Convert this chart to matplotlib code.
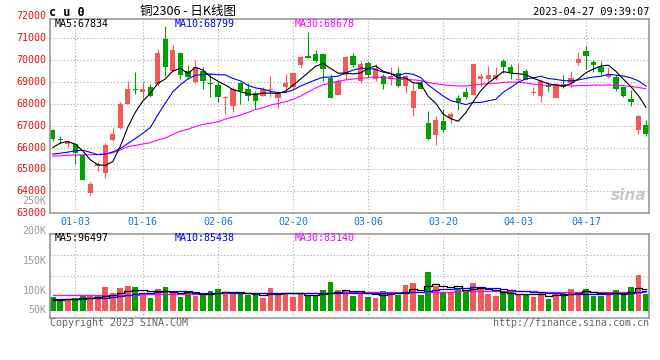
import numpy as np
import matplotlib
matplotlib.use("Agg")
import matplotlib.pyplot as plt

# daily candles, 2022-12-28 .. 2023-04-27 (80 trading days)
opens = [66810, 66410, 66160, 66160, 65640, 63920, 65180, 64840, 66350, 66870,
         68000, 68680, 68530, 68770, 68900, 70950, 69510, 70310, 69480, 68990,
         69510, 68960, 68870, 68280, 67910, 68930, 68650, 68500, 68370, 68620,
         68280, 68770, 68770, 69760, 70190, 70250, 70250, 69170, 68400, 69300,
         70160, 69020, 69850, 69110, 69260, 69110, 69390, 68830, 67790, 68990,
         67110, 66560, 67210, 67360, 68280, 68530, 68400, 69110, 69110, 69140,
         69940, 69690, 69080, 69510, 68470, 68370, 68830, 68250, 68900, 68930,
         69850, 70400, 69880, 69690, 69230, 69230, 68740, 68220, 66810, 67050]
closes = [66380, 66360, 66250, 65760, 64500, 64320, 65240, 66100, 66620, 68000,
          68680, 68630, 68650, 68370, 70310, 69660, 70430, 69300, 69200, 69690,
          69050, 68880, 68310, 68310, 68650, 68590, 68370, 68130, 68680, 68650,
          68500, 68930, 69420, 70120, 70090, 69970, 69570, 68280, 69050, 70120,
          69760, 69820, 69300, 69630, 68900, 69260, 68800, 69260, 68560, 68650,
          66380, 67240, 66810, 67510, 68070, 68310, 69790, 69260, 69330, 69300,
          69660, 69420, 69140, 69080, 68530, 69020, 68740, 68900, 68770, 69170,
          70060, 70160, 69760, 69450, 69360, 68650, 68340, 68070, 67420, 66620]
highs = [66840, 66530, 66320, 66220, 65670, 64440, 65330, 66220, 66870, 68070,
         69020, 69450, 68990, 68900, 70490, 71540, 70680, 70310, 69760, 70000,
         69690, 69390, 68990, 68340, 68740, 68990, 68930, 68590, 68770, 69260,
         68560, 69360, 69420, 70190, 71290, 70460, 70310, 69360, 69110, 70190,
         70310, 69940, 69940, 69820, 69360, 69690, 69690, 69360, 68960, 69080,
         67670, 67420, 67760, 67640, 68400, 68740, 69820, 69360, 69730, 69690,
         70030, 69790, 69850, 69600, 68770, 69140, 68990, 68960, 69330, 69480,
         70340, 70650, 70000, 69970, 69660, 69300, 68800, 68620, 67480, 67240]
lows = [66280, 66160, 66040, 65270, 64500, 63830, 64930, 64590, 66300, 66840,
        67970, 68430, 68160, 68310, 68830, 69260, 69450, 69140, 69140, 68930,
        68680, 68310, 68100, 67540, 67640, 67970, 68130, 67760, 68370, 68310,
        67790, 68530, 68620, 69630, 70090, 69910, 69050, 68280, 68400, 69080,
        69690, 68960, 69230, 69050, 68650, 68860, 68770, 68500, 67450, 68650,
        66340, 66100, 66710, 67110, 67730, 68220, 68400, 68800, 69050, 69080,
        69390, 69110, 69020, 69080, 68400, 68100, 68590, 68250, 68710, 68770,
        69760, 69570, 69450, 69330, 69170, 68590, 68310, 67910, 66620, 66530]

ma5 = [66000, 66200, 66280, 66150, 65850, 65440, 65215, 65185, 65360, 66060,
       66930, 67610, 68120, 68470, 68930, 69130, 69490, 69615, 69380, 69660,
       69535, 69224, 69028, 68849, 68641, 68548, 68447, 68410, 68484, 68484,
       68465, 68576, 68834, 69123, 69412, 69707, 69836, 69608, 69393, 69399,
       69356, 69405, 69608, 69725, 69479, 69381, 69178, 69172, 68957, 68908,
       68330, 68017, 67525, 67316, 67200, 67587, 68097, 68588, 68951, 69197,
       69467, 69393, 69369, 69320, 69166, 69037, 68902, 68853, 68791, 68920,
       69129, 69412, 69584, 69719, 69756, 69473, 69111, 68773, 68367, 67834]
ma10 = [65700, 65740, 65790, 65850, 65880, 65780, 65680, 65700, 65800, 65954,
        66184, 66412, 66651, 66912, 67493, 68028, 68547, 68866, 69125, 69293,
        69330, 69355, 69321, 69315, 69149, 69042, 68836, 68719, 68667, 68562,
        68507, 68512, 68622, 68803, 68948, 69086, 69206, 69221, 69258, 69405,
        69531, 69621, 69608, 69559, 69439, 69369, 69292, 69390, 69341, 69194,
        68856, 68598, 68349, 68137, 68054, 67959, 68057, 68057, 68134, 68198,
        68527, 68745, 68979, 69135, 69181, 69252, 69148, 69111, 69055, 69043,
        69083, 69157, 69218, 69255, 69338, 69301, 69261, 69178, 69043, 68799]
ma30 = [65608, 65624, 65640, 65660, 65670, 65670, 65680, 65700, 65760, 65885,
        66040, 66100, 66160, 66220, 66346, 66438, 66600, 66745, 66837, 66960,
        67052, 67114, 67175, 67298, 67390, 67482, 67605, 67728, 67820, 67937,
        68007, 68093, 68198, 68344, 68530, 68718, 68863, 68935, 69016, 69087,
        69123, 69162, 69184, 69226, 69179, 69165, 69111, 69110, 69089, 69054,
        68965, 68910, 68860, 68833, 68814, 68804, 68851, 68889, 68911, 68932,
        68971, 68988, 68978, 68944, 68891, 68860, 68832, 68853, 68843, 68812,
        68822, 68833, 68848, 68842, 68858, 68837, 68822, 68782, 68744, 68678]

# volume (thousand lots)
volume = [59, 41, 50, 56, 65, 67, 67, 104, 76, 100,
          108, 104, 73, 56, 95, 104, 76, 62, 76, 66,
          78, 87, 95, 84, 76, 76, 70, 69, 57, 100,
          78, 73, 60, 73, 65, 69, 91, 126, 91, 91,
          65, 87, 60, 56, 87, 82, 69, 113, 122, 69,
          170, 108, 82, 82, 95, 91, 122, 95, 73, 65,
          78, 82, 69, 69, 60, 78, 51, 78, 78, 95,
          78, 95, 65, 65, 78, 91, 73, 104, 157, 73]
vol_ma5 = [47, 48, 50, 52, 54, 56, 60, 66, 70, 80,
           88, 93, 92, 88, 87, 86, 81, 80, 83, 77,
           73, 75, 79, 84, 84, 84, 80, 75, 70, 74,
           75, 78, 78, 77, 70, 68, 72, 77, 84, 90,
           86, 85, 80, 72, 70, 74, 76, 82, 95, 92,
           108, 116, 110, 106, 108, 92, 96, 98, 97, 89,
           83, 78, 74, 74, 72, 72, 66, 68, 67, 72,
           76, 85, 83, 80, 76, 79, 75, 82, 101, 96.5]
vol_ma10 = [50, 50, 51, 52, 53, 54, 56, 58, 61, 65,
            70, 74, 76, 79, 82, 86, 86, 87, 87, 83,
            80, 80, 80, 81, 80, 80, 80, 79, 77, 77,
            76, 77, 78, 79, 77, 76, 76, 77, 77, 80,
            80, 80, 79, 78, 77, 78, 80, 80, 83, 81,
            88, 91, 95, 97, 99, 100, 103, 104, 100, 98,
            95, 92, 88, 86, 84, 81, 80, 77, 75, 74,
            73, 74, 74, 74, 74, 76, 77, 79, 84, 85.4]
vol_ma30 = [70, 70, 70, 70, 70, 70, 70, 70, 70, 70,
            71, 71, 72, 72, 72, 73, 73, 74, 74, 74,
            75, 75, 76, 76, 77, 77, 77, 77, 77, 78,
            78, 78, 79, 79, 79, 80, 80, 80, 80, 81,
            81, 81, 81, 81, 81, 81, 82, 82, 82, 82,
            83, 84, 84, 84, 85, 85, 85, 86, 86, 86,
            86, 86, 85, 85, 85, 84, 84, 84, 84, 84,
            84, 84, 84, 83, 83, 83, 83, 83, 83, 83.1]

date_ticks = {3: "01-03", 12: "01-16", 22: "02-06", 32: "02-20",
              42: "03-06", 52: "03-20", 62: "04-03", 71: "04-17"}
price_ticks = [64000, 65000, 66000, 67000, 68000, 69000, 70000, 71000]

RED = "#f55858"
GREEN = "#00a000"
GRID = "#aaaaaa"
FRAME = "#999999"
MONO = "DejaVu Sans Mono"

W, H = 660, 360
fig = plt.figure(figsize=(W / 100, H / 100), dpi=100)


def fx(x):
    return x / W


def fy(y):
    return 1 - y / H


x = np.arange(len(closes))
o = np.array(opens)
c = np.array(closes)
colors = [RED if cc >= oo else GREEN for oo, cc in zip(o, c)]

# ---------------- price panel ----------------
ax = fig.add_axes([fx(50), fy(213.3), fx(599), 194.3 / H])
ax.vlines(x, lows, highs, colors=colors, linewidth=0.8)
body_lo = np.minimum(o, c)
body_h = np.maximum(np.abs(c - o), 35)
ax.bar(x, body_h, bottom=body_lo, width=0.7, color=colors, linewidth=0)
ax.plot(x, ma30, color="#ff00ff", lw=0.8)
ax.plot(x, ma10, color="#0000ff", lw=0.8)
ax.plot(x, ma5, color="black", lw=0.8)
ax.set_xlim(-0.36, 79.4)
ax.set_ylim(63000, 71864)
ax.set_yticks(price_ticks)
ax.set_xticks(list(date_ticks.keys()))
ax.grid(True, color=GRID, linestyle=(0, (1, 2)), linewidth=0.8)
ax.set_axisbelow(True)
ax.tick_params(length=0, labelleft=False, labelbottom=False)
for s in ax.spines.values():
    s.set_color(FRAME)
    s.set_linewidth(1.2)

for v in [63000] + price_ticks + [72000]:
    ypx = 213.3 - (v - 63000) / 1000 * 21.92
    if v == 72000:
        ypx = 16
    fig.text(fx(46.5), fy(ypx), f"{v}", color="#ee1111", fontsize=7.2,
             family=MONO, ha="right", va="center")
fig.text(fx(46.5), fy(201.5), "250K", color="#999999", fontsize=7.2,
         family=MONO, ha="right", va="center")

ax.text(5 / 599, 0.975, "MA5:67834", transform=ax.transAxes, color="black",
        fontsize=7.2, family=MONO, va="center")
ax.text(125 / 599, 0.975, "MA10:68799", transform=ax.transAxes,
        color="#0000ee", fontsize=7.2, family=MONO, va="center")
ax.text(245 / 599, 0.975, "MA30:68678", transform=ax.transAxes,
        color="#ff00ff", fontsize=7.2, family=MONO, va="center")
ax.text(0.995, 0.09, "sina", transform=ax.transAxes, color="#bbbbbb",
        fontsize=11, fontweight="bold", style="italic", ha="right",
        va="center", alpha=0.8)

# header
fig.text(fx(49), fy(12), "c u 0", fontsize=8.5, fontweight="bold",
         family=MONO, va="center")
fig.text(fx(140), fy(12), "铜2306 - 日K线图", fontsize=9,
         family=["Noto Sans CJK SC", "DejaVu Sans"], va="center")
fig.text(fx(649), fy(12), "2023-04-27 09:39:07", fontsize=7.3,
         family=MONO, ha="right", va="center")

for i, lab in date_ticks.items():
    xp = 52.7 + i * 7.51
    fig.text(fx(xp), fy(222), lab, color="#1a78d0", fontsize=7.2,
             family=MONO, ha="center", va="center")

# ---------------- volume panel ----------------
vx = fig.add_axes([fx(50), fy(318), fx(599), 83.7 / H])
vol = np.array(volume) * 1000
vx.bar(x, vol, width=0.75, color=colors, linewidth=0)
vx.plot(x, np.array(vol_ma30) * 1000, color="#ff00ff", lw=0.9,
        drawstyle="steps-mid")
vx.plot(x, np.array(vol_ma10) * 1000, color="#0000ff", lw=0.9,
        drawstyle="steps-mid")
vx.plot(x, np.array(vol_ma5) * 1000, color="black", lw=0.9,
        drawstyle="steps-mid")
vx.set_xlim(-0.36, 79.4)
vx.set_ylim(-32000, 336000)
vx.set_yticks([153000, 245000])
vx.set_xticks(list(date_ticks.keys()))
vx.grid(True, color=GRID, linestyle=(0, (1, 2)), linewidth=0.8)
vx.set_axisbelow(True)
vx.tick_params(length=0, labelleft=False, labelbottom=False)
for s in vx.spines.values():
    s.set_color(FRAME)
    s.set_linewidth(1.2)

for lab, ypx in [("200K", 231), ("150K", 261), ("100K", 291), ("50K", 310)]:
    fig.text(fx(46.5), fy(ypx), lab, color="#999999", fontsize=7.2,
             family=MONO, ha="right", va="center")

vx.text(5 / 599, 0.955, "MA5:96497", transform=vx.transAxes, color="black",
        fontsize=7.2, family=MONO, va="center")
vx.text(125 / 599, 0.955, "MA10:85438", transform=vx.transAxes,
        color="#0000ee", fontsize=7.2, family=MONO, va="center")
vx.text(245 / 599, 0.955, "MA30:83140", transform=vx.transAxes,
        color="#ff00ff", fontsize=7.2, family=MONO, va="center")

fig.text(fx(50), fy(323.5), "Copyright 2023 SINA.COM", color="#666666",
         fontsize=7.2, family=MONO, va="center")
fig.text(fx(649), fy(323.5), "http://finance.sina.com.cn", color="#666666",
         fontsize=7.2, family=MONO, ha="right", va="center")

fig.savefig("out.png", dpi=100, facecolor="white")
